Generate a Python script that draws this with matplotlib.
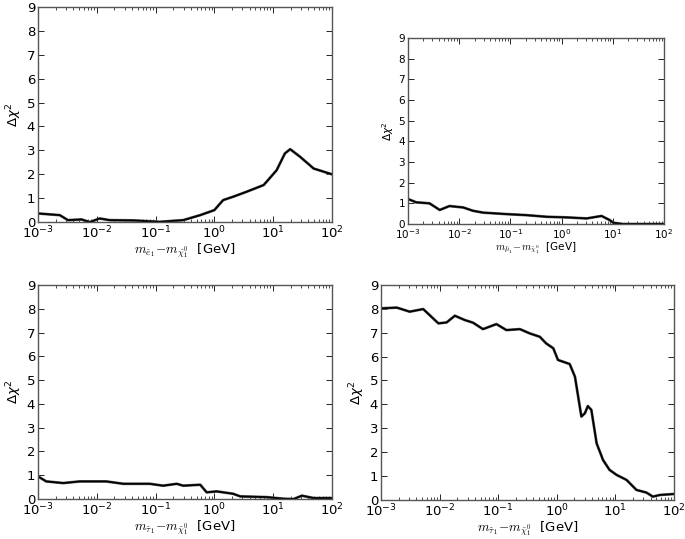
import numpy as np
import matplotlib
matplotlib.use("Agg")
import matplotlib.pyplot as plt
from matplotlib.ticker import LogLocator, FixedLocator

# ---- data (log10 of mass difference in GeV, delta chi^2) ----
tl_logx = [-3.0, -2.63, -2.49, -2.26, -2.12, -1.95, -1.78, -1.38, -0.93, -0.53, -0.24, 0.0,
           0.15, 0.32, 0.55, 0.84, 1.06, 1.2, 1.29, 1.46, 1.69, 2.0]
tl_y = [0.36, 0.29, 0.08, 0.11, 0.0, 0.15, 0.08, 0.07, 0.01, 0.08, 0.29, 0.5,
        0.92, 1.06, 1.27, 1.55, 2.17, 2.87, 3.05, 2.73, 2.24, 2.0]

tr_logx = [-3.0, -2.84, -2.58, -2.38, -2.19, -1.92, -1.73, -1.53, -1.08, -0.69, -0.29, 0.1,
           0.49, 0.78, 0.94, 1.01, 1.2, 2.0]
tr_y = [1.21, 1.05, 1.0, 0.68, 0.87, 0.8, 0.64, 0.55, 0.48, 0.43, 0.35, 0.32,
        0.27, 0.39, 0.19, 0.06, 0.0, 0.0]

bl_logx = [-3.0, -2.86, -2.57, -2.29, -1.84, -1.55, -1.1, -0.87, -0.64, -0.53, -0.24, -0.13,
           0.04, 0.32, 0.44, 0.89, 1.18, 1.35, 1.49, 1.69, 2.0]
bl_y = [0.95, 0.74, 0.67, 0.74, 0.74, 0.64, 0.64, 0.56, 0.64, 0.56, 0.6, 0.28,
        0.32, 0.22, 0.11, 0.08, 0.01, 0.0, 0.14, 0.04, 0.04]

br_logx = [-3.0, -2.73, -2.51, -2.28, -2.02, -1.88, -1.74, -1.57, -1.43, -1.26, -1.03, -0.86,
           -0.63, -0.46, -0.29, -0.18, -0.06, 0.02, 0.22, 0.31, 0.42, 0.48, 0.53, 0.59,
           0.68, 0.79, 0.9, 1.02, 1.19, 1.36, 1.53, 1.64, 1.76, 2.0]
br_y = [8.02, 8.05, 7.88, 7.99, 7.39, 7.43, 7.71, 7.53, 7.42, 7.15, 7.36, 7.11,
        7.15, 6.97, 6.83, 6.55, 6.35, 5.86, 5.69, 5.16, 3.49, 3.63, 3.93, 3.77,
        2.37, 1.67, 1.26, 1.05, 0.84, 0.42, 0.31, 0.14, 0.21, 0.25]

yticks = [0, 1, 2, 3, 4, 5, 6, 7, 8, 9]
xlabels = [r'$m_{\tilde{e}_1}\!-\!m_{\tilde{\chi}_1^0}$  [GeV]',
           r'$m_{\tilde{\mu}_1}\!-\!m_{\tilde{\chi}_1^0}$  [GeV]',
           r'$m_{\tilde{\tau}_1}\!-\!m_{\tilde{\chi}_1^0}$  [GeV]',
           r'$m_{\tilde{\tau}_1}\!-\!m_{\tilde{\chi}_1^0}$  [GeV]']

fig = plt.figure(figsize=(6.85, 5.39), dpi=100)
positions = [
    [0.0555, 0.588, 0.429, 0.399],
    [0.5956, 0.5844, 0.3737, 0.345],
    [0.0555, 0.0742, 0.429, 0.397],
    [0.5562, 0.0724, 0.4277, 0.399],
]
sizes = [9.5, 7.5, 9.5, 9.5]
series = [(tl_logx, tl_y), (tr_logx, tr_y), (bl_logx, bl_y), (br_logx, br_y)]

for pos, fs, (lx, yy), xl in zip(positions, sizes, series, xlabels):
    ax = fig.add_axes(pos)
    x = np.power(10.0, np.array(lx))
    ax.plot(x, yy, color='#666666', lw=2.0)
    ax.plot(x, yy, color='black', lw=1.3)
    ax.set_xscale('log')
    ax.set_xlim(1e-3, 1e2)
    ax.set_ylim(0, 9)
    ax.set_yticks(yticks)
    ax.xaxis.set_major_locator(FixedLocator([1e-3, 1e-2, 1e-1, 1e0, 1e1, 1e2]))
    ax.xaxis.set_minor_locator(LogLocator(base=10, subs=np.arange(2, 10), numticks=20))
    ax.tick_params(which='both', direction='in', top=True, right=True, labelsize=fs,
                   colors='black', pad=2)
    ax.tick_params(which='major', length=4, width=0.6)
    ax.tick_params(which='minor', length=2, width=0.5)
    for s in ax.spines.values():
        s.set_color('#555555')
        s.set_linewidth(1.0)
    ax.set_xlabel(xl, fontsize=fs, math_fontfamily='cm', labelpad=0)
    ax.set_ylabel(r'$\Delta\chi^2$', fontsize=fs, math_fontfamily='dejavusans', labelpad=2)

fig.savefig('out.png', dpi=100)
